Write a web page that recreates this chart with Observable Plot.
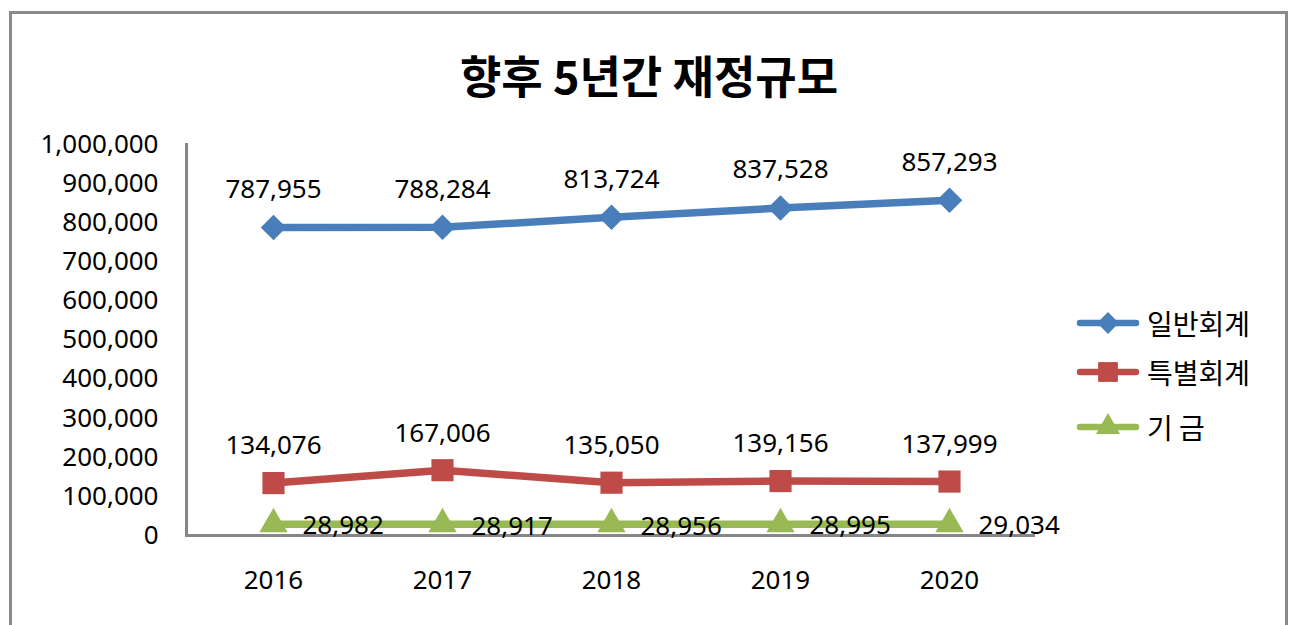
<!DOCTYPE html>
<html>
<head>
<meta charset="utf-8">
<script src="https://cdn.jsdelivr.net/npm/d3@7"></script>
<script src="https://cdn.jsdelivr.net/npm/@observablehq/plot@0.6"></script>
<style>
  html, body { margin: 0; padding: 0; background: #fff; }
  #wrap { position: relative; width: 1292px; height: 625px; overflow: hidden; background: #fff; }
  #border { position: absolute; left: 9px; top: 11px; width: 1279px; height: 700px; border: 3px solid #8a8a8a; box-sizing: border-box; }
  #title { position: absolute; left: 0; width: 1298px; top: 44px; text-align: center; font-family: "Noto Sans CJK KR", "Noto Sans", sans-serif; font-weight: bold; font-size: 45px; line-height: 62px; color: #000; }
  #chart { position: absolute; left: 0; top: 120px; }
  #legend { position: absolute; left: 1076px; top: 0; width: 216px; height: 625px; font-family: "Noto Sans CJK KR", "Noto Sans", sans-serif; font-size: 28px; color: #000; }
  .row { position: absolute; left: 0; display: flex; align-items: center; height: 40px; }
  .row svg { margin-right: 7px; }
</style>
</head>
<body>
<div id="wrap">
  <div id="border"></div>
  <div id="title">향후 5년간 재정규모</div>
  <div id="chart"></div>
  <div id="legend"></div>
</div>
<script>
const years = ["2016", "2017", "2018", "2019", "2020"];
const seriesNames = ["일반회계", "특별회계", "기 금"];
const general = [787955, 788284, 813724, 837528, 857293];
const special = [134076, 167006, 135050, 139156, 137999];
const fund = [28982, 28917, 28956, 28995, 29034];
const yTicks = [0, 100000, 200000, 300000, 400000, 500000, 600000, 700000, 800000, 900000, 1000000];
const colors = ["#4A7EBB", "#BE4B48", "#98B954"];
const symbols = ["diamond2", "square", "triangle"];

const allValues = [general, special, fund];
const rows = [];
allValues.forEach((vals, si) => {
  vals.forEach((v, i) => rows.push({ year: years[i], value: v, series: seriesNames[si] }));
});
const fmt = d3.format(",");
const bySeries = s => rows.filter(d => d.series === s);

const plot = Plot.plot({
  width: 1292,
  height: 505,
  marginTop: 24,
  marginBottom: 90,
  marginLeft: 186,
  marginRight: 257,
  style: { fontFamily: "'Noto Sans', sans-serif", fontSize: "26px", color: "#000", background: "transparent", overflow: "visible" },
  x: { type: "point", domain: years, padding: 0.5, label: null },
  y: { domain: [0, 1000000], label: null },
  color: { domain: seriesNames, range: colors },
  symbol: { domain: seriesNames, range: symbols },
  marks: [
    Plot.axisY({ ticks: yTicks, tickSize: 0, tickPadding: 28, tickFormat: fmt, label: null, fontSize: 26 }),
    Plot.axisX({ tickSize: 0, tickPadding: 35, label: null, fontSize: 26 }),
    Plot.frame({ anchor: "left", stroke: "#878787", strokeWidth: 3 }),
    Plot.ruleY([0], { stroke: "#878787", strokeWidth: 3 }),
    Plot.line(rows, { x: "year", y: "value", z: "series", stroke: "series", strokeWidth: 7.5 }),
    Plot.dot(bySeries(seriesNames[0]), { x: "year", y: "value", symbol: "series", fill: "series", r: 11.5 }),
    Plot.dot(bySeries(seriesNames[1]), { x: "year", y: "value", symbol: "series", fill: "series", r: 12.5 }),
    Plot.dot(bySeries(seriesNames[2]), { x: "year", y: "value", symbol: "series", fill: "series", r: 10.5 }),
    Plot.text(bySeries(seriesNames[0]), { x: "year", y: "value", text: d => fmt(d.value), dy: -38, fontSize: 26, fill: "#000" }),
    Plot.text(bySeries(seriesNames[1]), { x: "year", y: "value", text: d => fmt(d.value), dy: -37, fontSize: 26, fill: "#000" }),
    Plot.text(bySeries(seriesNames[2]), { x: "year", y: "value", text: d => fmt(d.value), dx: 29, dy: 2, textAnchor: "start", fontSize: 26, fill: "#000" })
  ]
});
document.getElementById("chart").appendChild(plot);

// legend
const legend = d3.select("#legend");
const symObjs = [d3.symbolDiamond2, d3.symbolSquare, d3.symbolTriangle];
const symSizes = [Math.PI * 11 * 11 * 0.8, Math.PI * 12.5 * 12.5 * 0.8, Math.PI * 10 * 10 * 0.8];
const rowCenters = [323, 372, 427];
seriesNames.forEach((name, i) => {
  const row = legend.append("div").attr("class", "row").style("top", (rowCenters[i] - 20) + "px");
  const svg = row.append("svg").attr("width", 64).attr("height", 30);
  svg.append("line").attr("x1", 4).attr("x2", 60).attr("y1", 15).attr("y2", 15)
    .attr("stroke", colors[i]).attr("stroke-width", 6.5).attr("stroke-linecap", "round");
  svg.append("path").attr("transform", "translate(32,15)")
    .attr("d", d3.symbol(symObjs[i], symSizes[i])()).attr("fill", colors[i]);
  row.append("span").text(name);
});
</script>
</body>
</html>
